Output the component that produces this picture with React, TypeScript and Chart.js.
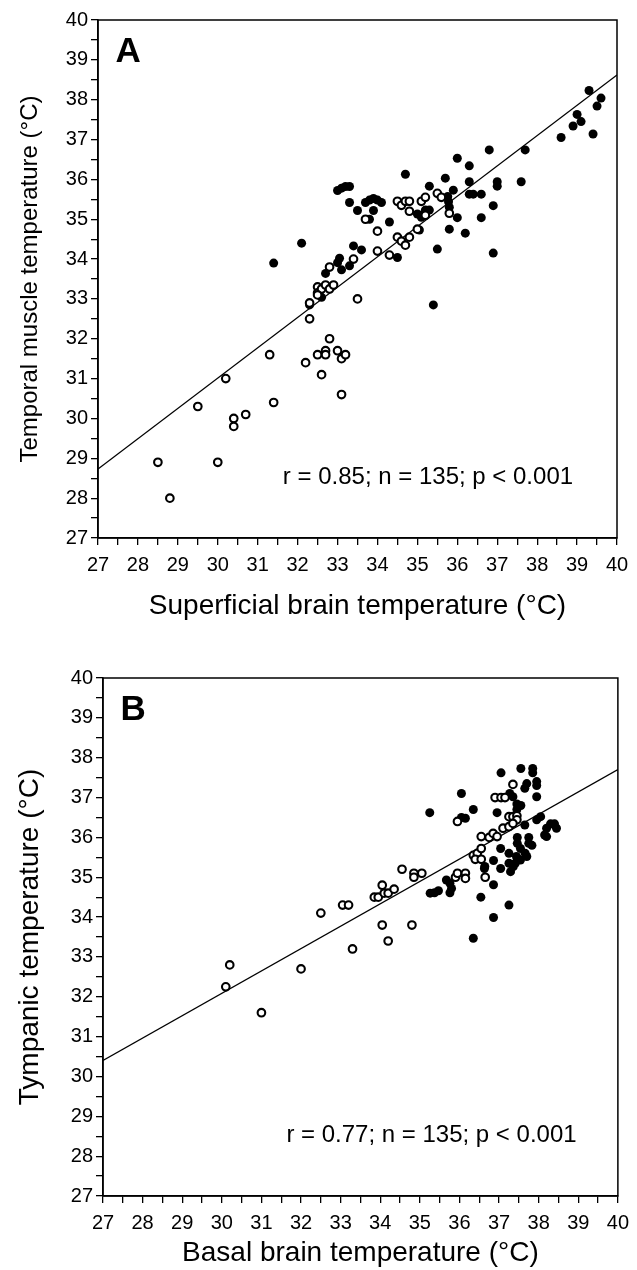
import React, { useEffect, useRef } from 'react';
import { Chart, registerables } from 'chart.js';

Chart.register(...registerables);

const FONT = '"Liberation Sans", Arial, Helvetica, sans-serif';

// Axis tick values (both axes, both panels), labels shown at integers
const axisTicks = [27, 28, 29, 30, 31, 32, 33, 34, 35, 36, 37, 38, 39, 40];

// ---------- Panel A: superficial brain vs temporal muscle ----------
const aOpen: [number, number][] = [
  [28.5, 28.9], [28.8, 28.0], [29.5, 30.3], [30.0, 28.9], [30.2, 31.0],
  [30.4, 30.0], [30.4, 29.8], [30.7, 30.1], [31.3, 31.6], [31.4, 30.4],
  [32.2, 31.4], [32.3, 32.5], [32.3, 32.9], [32.5, 31.6], [32.6, 31.1],
  [32.7, 31.7], [32.7, 31.6], [32.8, 32.0], [33.0, 31.7], [33.1, 31.5],
  [33.2, 31.6], [33.1, 30.6], [33.5, 33.0], [32.5, 33.3], [32.5, 33.15],
  [32.6, 33.25], [32.7, 33.35], [32.8, 33.25], [32.9, 33.35], [32.5, 33.1],
  [32.8, 33.8], [33.4, 34.0], [33.7, 35.0], [34.0, 34.7], [34.0, 34.2],
  [34.3, 34.1], [34.5, 34.55], [34.6, 34.45], [34.7, 34.35], [34.8, 34.55],
  [35.0, 34.75], [34.5, 35.45], [34.6, 35.35], [34.7, 35.45], [34.8, 35.45],
  [34.8, 35.2], [35.1, 35.45], [35.2, 35.55], [35.2, 35.1], [35.5, 35.65],
  [35.6, 35.55], [35.8, 35.15],
];
const aFilled: [number, number][] = [
  [31.4, 33.9], [32.1, 34.4], [33.0, 35.72], [33.1, 35.78], [33.2, 35.82],
  [33.3, 35.82], [33.3, 35.42], [33.5, 35.22], [33.7, 35.42], [33.8, 35.48],
  [33.9, 35.52], [34.0, 35.48], [34.1, 35.42], [33.9, 35.22], [33.8, 35.0],
  [34.3, 34.93], [34.7, 36.13], [35.3, 35.83], [35.0, 35.13], [35.1, 35.05],
  [35.3, 35.23], [35.2, 35.23], [35.1, 35.1], [35.05, 34.73], [34.5, 34.04],
  [33.4, 34.33], [33.6, 34.23], [33.05, 34.02], [33.0, 33.91], [33.3, 33.83],
  [33.1, 33.73], [32.7, 33.64], [32.6, 33.04], [32.3, 32.85], [35.5, 34.25],
  [35.4, 32.85], [35.7, 36.03], [35.9, 35.73], [35.76, 35.57], [35.78, 35.44],
  [35.8, 35.3], [36.0, 36.53], [36.0, 35.04], [35.8, 34.75], [36.2, 34.65],
  [36.3, 36.34], [36.3, 35.94], [36.3, 35.63], [36.4, 35.63], [36.6, 35.63],
  [36.6, 35.04], [36.9, 35.34], [36.9, 34.15], [36.8, 36.74], [37.0, 35.94],
  [37.0, 35.83], [37.6, 35.94], [37.7, 36.74], [38.6, 37.05], [38.9, 37.34],
  [39.0, 37.63], [39.1, 37.45], [39.3, 38.23], [39.4, 37.14], [39.5, 37.84],
  [39.6, 38.04],
];
const aFit: [number, number][] = [[27, 28.73], [40, 38.62]];

// ---------- Panel B: basal brain vs tympanic ----------
const bOpen: [number, number][] = [
  [30.1, 32.25], [30.2, 32.8], [31.0, 31.6], [32.0, 32.7], [32.5, 34.1],
  [33.05, 34.3], [33.2, 34.3], [33.3, 33.2], [33.85, 34.5], [33.95, 34.5],
  [34.05, 34.8], [34.1, 34.6], [34.2, 34.6], [34.35, 34.7], [34.05, 33.8],
  [34.2, 33.4], [34.55, 35.2], [34.8, 33.8], [34.85, 35.1], [34.85, 35.0],
  [35.05, 35.1], [35.9, 35.0], [35.95, 35.1], [36.15, 35.1], [36.15, 34.97],
  [35.95, 36.4], [36.35, 35.55], [36.45, 35.6], [36.55, 35.72], [36.4, 35.45],
  [36.55, 35.45], [36.65, 35.0], [36.55, 36.02], [36.75, 36.0], [36.85, 36.1],
  [36.95, 36.02], [37.1, 36.23], [37.25, 36.27], [36.9, 37.0], [37.05, 37.0],
  [37.15, 37.0], [37.35, 37.33], [37.25, 36.52], [37.35, 36.52], [37.45, 36.54],
  [37.45, 36.44], [37.35, 36.35],
];
const bFilled: [number, number][] = [
  [35.25, 36.62], [36.05, 37.1], [36.35, 36.7], [36.05, 36.5], [36.15, 36.48],
  [36.95, 36.62], [37.05, 37.62], [37.55, 37.73], [37.85, 37.73], [37.85, 37.62],
  [37.95, 37.4], [37.95, 37.3], [37.7, 37.35], [37.65, 37.23], [37.27, 37.1],
  [37.35, 37.02], [37.95, 37.02], [37.45, 36.84], [37.55, 36.8], [37.45, 36.7],
  [37.65, 36.31], [37.95, 36.44], [38.05, 36.52], [38.2, 36.23], [38.3, 36.34],
  [38.4, 36.34], [38.45, 36.23], [38.2, 36.02], [38.15, 36.06], [37.46, 36.0],
  [37.75, 36.0], [37.46, 35.85], [37.75, 35.85], [37.83, 35.8], [37.54, 35.72],
  [37.66, 35.6], [37.46, 35.47], [37.41, 35.35], [37.36, 35.27], [37.29, 35.14],
  [37.25, 35.35], [37.04, 35.72], [37.04, 35.22], [36.86, 35.42], [36.86, 34.81],
  [36.54, 34.5], [36.64, 35.27], [37.25, 35.6], [37.54, 35.43], [37.7, 35.52],
  [35.67, 34.93], [35.76, 34.85], [35.76, 34.61], [35.26, 34.6], [35.37, 34.61],
  [35.47, 34.66], [35.8, 34.72], [37.25, 34.3], [36.86, 33.99], [36.35, 33.47],
  [36.63, 35.22], [37.44, 35.52],
];
const bFit: [number, number][] = [[27, 30.4], [40, 37.7]];

const tickList: number[] = axisTicks.flatMap((v, i) =>
  i < axisTicks.length - 1 ? [v, v + 0.5] : [v]
);

type PanelCfg = {
  top: number;
  letter: string;
  stats: string;
  xTitle: string;
  yTitle: string;
  open: [number, number][];
  filled: [number, number][];
  fit: [number, number][];
  padTop: number;
  padRight: number;
  yWidth: number;
  xHeight: number;
  xTitlePad: number;
  yTitleSize: number;
  yTitlePad: number;
};

const panels: PanelCfg[] = [
  {
    top: 0, letter: 'A', stats: 'r = 0.85; n = 135; p < 0.001',
    xTitle: 'Superficial brain temperature (°C)',
    yTitle: 'Temporal muscle temperature (°C)',
    open: aOpen, filled: aFilled, fit: aFit,
    padTop: 20, padRight: 20, yWidth: 98, xHeight: 97, xTitlePad: 12,
    yTitleSize: 24, yTitlePad: 16,
  },
  {
    top: 635, letter: 'B', stats: 'r = 0.77; n = 135; p < 0.001',
    xTitle: 'Basal brain temperature (°C)',
    yTitle: 'Tympanic temperature (°C)',
    open: bOpen, filled: bFilled, fit: bFit,
    padTop: 43, padRight: 12, yWidth: 103, xHeight: 74, xTitlePad: 0,
    yTitleSize: 28, yTitlePad: 13,
  },
];

const toXY = (arr: [number, number][]) => arr.map(([x, y]) => ({ x, y }));

const decoPlugin = {
  id: 'deco',
  afterDatasetsDraw(chart: any, _args: any, opts: any) {
    const { ctx, chartArea } = chart;
    const { left, top, right, bottom } = chartArea;
    const xs = chart.scales.x;
    const ys = chart.scales.y;
    ctx.save();
    ctx.strokeStyle = '#000';
    ctx.lineWidth = 1.5;
    ctx.strokeRect(left, top, right - left, bottom - top);
    ctx.fillStyle = '#000';
    ctx.textBaseline = 'alphabetic';
    ctx.textAlign = 'left';
    ctx.font = `bold 35px ${FONT}`;
    ctx.fillText(opts.letter, xs.getPixelForValue(27.44), ys.getPixelForValue(38.95));
    ctx.font = `24px ${FONT}`;
    ctx.fillText(opts.stats, xs.getPixelForValue(31.63), ys.getPixelForValue(28.36));
    ctx.restore();
  },
};

function Panel({ cfg }: { cfg: PanelCfg }) {
  const ref = useRef<HTMLCanvasElement | null>(null);
  useEffect(() => {
    if (!ref.current) return;
    const tickFont = { family: FONT, size: 20 };
    const titleFont = { family: FONT, size: 28 };
    const chart = new Chart(ref.current, {
      type: 'scatter',
      data: {
        datasets: [
          {
            label: 'open',
            data: toXY(cfg.open),
            pointRadius: 3.8,
            pointHoverRadius: 3.8,
            pointBackgroundColor: '#fff',
            pointBorderColor: '#000',
            pointBorderWidth: 2.1,
          },
          {
            label: 'filled',
            data: toXY(cfg.filled),
            pointRadius: 4.5,
            pointHoverRadius: 4.5,
            pointBackgroundColor: '#000',
            pointBorderColor: '#000',
            pointBorderWidth: 0,
          },
          {
            label: 'fit',
            data: toXY(cfg.fit),
            showLine: true,
            pointRadius: 0,
            borderColor: '#000',
            borderWidth: 1.3,
            fill: false,
          } as any,
        ],
      },
      options: {
        responsive: false,
        animation: false,
        devicePixelRatio: 1,
        layout: { padding: { top: cfg.padTop, right: cfg.padRight, left: 0, bottom: 0 } },
        plugins: {
          legend: { display: false },
          tooltip: { enabled: false },
          deco: { letter: cfg.letter, stats: cfg.stats },
        } as any,
        scales: {
          x: {
            type: 'linear',
            min: 27,
            max: 40,
            afterBuildTicks: (s: any) => { s.ticks = tickList.map((v) => ({ value: v })); },
            afterFit: (s: any) => { s.height = cfg.xHeight; },
            ticks: {
              autoSkip: false,
              maxRotation: 0,
              color: '#000',
              font: tickFont,
              padding: 8,
              callback: (v: any) => (Number.isInteger(v) ? String(v) : ''),
            },
            grid: { drawOnChartArea: false, drawTicks: true, tickLength: 7, color: '#000', lineWidth: 1.3 },
            border: { display: true, color: '#000', width: 1.5 },
            title: {
              display: true,
              text: cfg.xTitle,
              color: '#000',
              font: titleFont,
              padding: { top: 0, bottom: cfg.xTitlePad },
            },
          },
          y: {
            type: 'linear',
            min: 27,
            max: 40,
            afterBuildTicks: (s: any) => { s.ticks = tickList.map((v) => ({ value: v })); },
            afterFit: (s: any) => { s.width = cfg.yWidth; },
            ticks: {
              autoSkip: false,
              color: '#000',
              font: tickFont,
              padding: 3,
              callback: (v: any) => (Number.isInteger(v) ? String(v) : ''),
            },
            grid: { drawOnChartArea: false, drawTicks: true, tickLength: 7, color: '#000', lineWidth: 1.3 },
            border: { display: true, color: '#000', width: 1.5 },
            title: {
              display: true,
              text: cfg.yTitle,
              color: '#000',
              font: { family: FONT, size: cfg.yTitleSize },
              padding: { top: cfg.yTitlePad, bottom: 0 },
            },
          },
        },
      },
      plugins: [decoPlugin],
    } as any);
    return () => chart.destroy();
  }, [cfg]);
  return (
    <div style={{ position: 'absolute', left: 0, top: cfg.top, width: 637, height: 635 }}>
      <canvas ref={ref} width={637} height={635} style={{ display: 'block', width: 637, height: 635 }} />
    </div>
  );
}

export default function App() {
  return (
    <div style={{ position: 'absolute', left: 0, top: 0, width: 637, height: 1270, background: '#fff' }}>
      {panels.map((p) => (
        <Panel key={p.letter} cfg={p} />
      ))}
    </div>
  );
}
